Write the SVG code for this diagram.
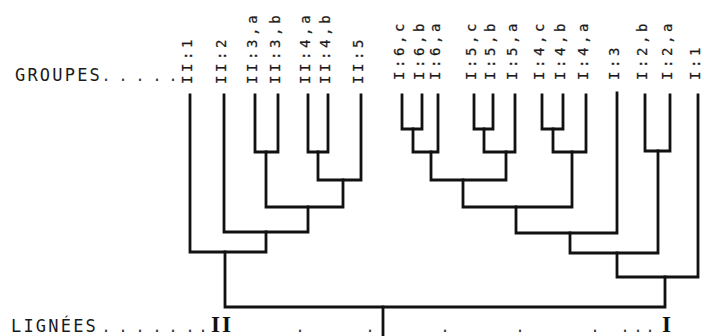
<svg xmlns="http://www.w3.org/2000/svg" width="704" height="336" viewBox="0 0 704 336">
<style>
.ln{fill:none;stroke:#111;stroke-width:2.8;stroke-linecap:square;stroke-linejoin:miter}
.lab{font-family:"DejaVu Sans Mono","Liberation Mono",monospace;font-size:14px;letter-spacing:3.6px;fill:#1a1a1a;stroke:#1a1a1a;stroke-width:0.25}
.big{font-family:"DejaVu Sans Mono","Liberation Mono",monospace;font-size:17px;letter-spacing:2.2px;fill:#1a1a1a}
.dot{font-family:"DejaVu Sans Mono","Liberation Mono",monospace;font-size:15px;fill:#333}
.rom{font-family:"Liberation Serif","Times New Roman",serif;font-weight:bold;font-size:23px;fill:#111}
</style>
<rect width="704" height="336" fill="#fff"/>
<g id="titles">
<text class="big" x="15" y="81">GROUPES</text>
<text class="dot" x="101.5 118.5 135.5 152.5 168.5" y="81">.....</text>
<text class="big" x="11" y="332">LIGNÉES</text>
<text class="dot" x="101.5 118.5 135.5 152.5 168.5 185.5 198.5" y="332">.......</text>
<text class="rom" x="211 222" y="332">II</text>
<text class="dot" x="295.5 365.5 440.5 515.5 590.5 620.5 633.5 645.5" y="332">........</text>
<text class="rom" x="662" y="332">I</text>
</g>
<g id="labels">
<g id="n-II1"><text class="lab" transform="translate(192,84) rotate(-90)">II:1</text></g>
<g id="n-II2"><text class="lab" transform="translate(226,84) rotate(-90)">II:2</text></g>
<g id="n-II3a"><text class="lab" transform="translate(257,84) rotate(-90)">II:3,a</text></g>
<g id="n-II3b"><text class="lab" transform="translate(280,84) rotate(-90)">II:3,b</text></g>
<g id="n-II4a"><text class="lab" transform="translate(310,84) rotate(-90)">II:4,a</text></g>
<g id="n-II4b"><text class="lab" transform="translate(330,84) rotate(-90)">II:4,b</text></g>
<g id="n-II5"><text class="lab" transform="translate(363,84) rotate(-90)">II:5</text></g>
<g id="n-I6c"><text class="lab" transform="translate(404,80) rotate(-90)">I:6,c</text></g>
<g id="n-I6b"><text class="lab" transform="translate(424,80) rotate(-90)">I:6,b</text></g>
<g id="n-I6a"><text class="lab" transform="translate(440,80) rotate(-90)">I:6,a</text></g>
<g id="n-I5c"><text class="lab" transform="translate(476,80) rotate(-90)">I:5,c</text></g>
<g id="n-I5b"><text class="lab" transform="translate(495,80) rotate(-90)">I:5,b</text></g>
<g id="n-I5a"><text class="lab" transform="translate(517,80) rotate(-90)">I:5,a</text></g>
<g id="n-I4c"><text class="lab" transform="translate(544,80) rotate(-90)">I:4,c</text></g>
<g id="n-I4b"><text class="lab" transform="translate(565,80) rotate(-90)">I:4,b</text></g>
<g id="n-I4a"><text class="lab" transform="translate(588,80) rotate(-90)">I:4,a</text></g>
<g id="n-I3"><text class="lab" transform="translate(619,80) rotate(-90)">I:3</text></g>
<g id="n-I2b"><text class="lab" transform="translate(647,80) rotate(-90)">I:2,b</text></g>
<g id="n-I2a"><text class="lab" transform="translate(672,80) rotate(-90)">I:2,a</text></g>
<g id="n-I1"><text class="lab" transform="translate(700,80) rotate(-90)">I:1</text></g>
</g>
<g id="connectors">
<path class="ln" d="M255 95V152H278V95"/>
<path class="ln" d="M308 95V152H328V95"/>
<path class="ln" d="M318 152V180H361V95"/>
<path class="ln" d="M266 152V207H343V180"/>
<path class="ln" d="M224 95V232H308V207"/>
<path class="ln" d="M190 95V252H266V232"/>
<path class="ln" d="M402 95V129H422V95"/>
<path class="ln" d="M413 129V152H438V95"/>
<path class="ln" d="M474 95V129H493V95"/>
<path class="ln" d="M484 129V152H515V95"/>
<path class="ln" d="M431 152V180H506V152"/>
<path class="ln" d="M542 95V129H563V95"/>
<path class="ln" d="M553 129V152H586V95"/>
<path class="ln" d="M463 180V207H572V152"/>
<path class="ln" d="M516 207V233H617V93"/>
<path class="ln" d="M645 95V151H670V95"/>
<path class="ln" d="M570 233V253H658V151"/>
<path class="ln" d="M617 253V277H698V95"/>
<path class="ln" d="M225 252V307H665V277"/>
<path class="ln" d="M383 307V338"/>
</g>
</svg>
